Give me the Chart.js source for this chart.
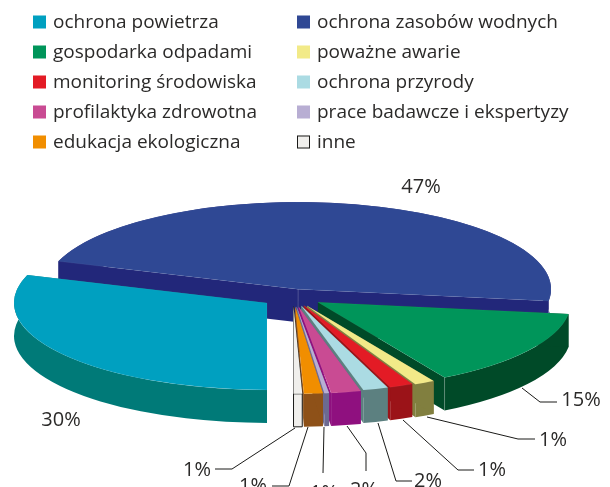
<!DOCTYPE html>
<html><head><meta charset="utf-8">
<style>html,body{margin:0;padding:0;background:#fff;overflow:hidden}#c{display:block}</style>
<script src="https://cdn.jsdelivr.net/npm/chart.js@4"></script></head>
<body><div style="width:610px;height:487px;position:relative"><canvas id="c" width="610" height="487"></canvas></div>
<script>
const categories=['ochrona powietrza','ochrona zasobów wodnych','gospodarka odpadami','poważne awarie','monitoring środowiska','ochrona przyrody','profilaktyka zdrowotna','prace badawcze i ekspertyzy','edukacja ekologiczna','inne'];
const values=[30.2,47,14.5,1.3,1.5,1.6,1.9,0.3,1.2,0.55];
const percentLabels=['30%','47%','15%','1%','1%','2%','2%','1%','1%','1%'];
const topColors=['#00a0c0','#2f4894','#00955a','#f2ea88','#e31b25','#abdbe3','#c94b93','#b8aed3','#f18e00','#f0efec'];
const sideColors=['#007a78','#22277a','#004a28','#817f3f','#9b1318','#5c8080','#8f107f','#6c6a92','#8e5118','#f0efec'];
const explode=[32,22,30,30,28,28,30,30,30,30];
const labelPos=[[61,420],[421,187],[581,400],[553,440],[492,470],[428,481],[364,490],[324,493],[253,486],[197,470]];
const leaders=[[],[],[[522,388],[540,402],[557,402]],[[427,417],[518,439],[535,439]],[[403,420],[458,470],[474,470]],[[378,423],[396,481],[412,481]],[[347,426],[366,453],[366,471]],[[324,427],[323,473]],[[308,427],[289,486],[272,486]],[[295,428],[232,469],[215,469]]];
const PIE_X=293,PIE_Y=296.5,SQUASH=0.344,DEPTH=33,RADIUS=253;
const FONT='"Open Sans"';
const TEXT='#2b2a29';

const pie3d={id:'pie3d',
 beforeDatasetDraw(chart,args){
  const ctx=chart.ctx,arcs=chart.getDatasetMeta(0).data;
  const order=[1,0,2,3,4,5,6,7,8,9];
  order.forEach(i=>{
   const a=arcs[i],mid=(a.startAngle+a.endAngle)/2,r=a.outerRadius;
   const ax=PIE_X+Math.cos(mid)*explode[i],ay=PIE_Y+Math.sin(mid)*explode[i]*SQUASH;
   const pt=t=>[ax+r*Math.cos(t),ay+r*Math.sin(t)*SQUASH];
   const p1=pt(a.startAngle),p2=pt(a.endAngle);
   ctx.save();
   ctx.fillStyle=sideColors[i];
   ctx.beginPath();
   ctx.ellipse(ax,ay,r,r*SQUASH,0,a.startAngle,a.endAngle);
   ctx.lineTo(p2[0],p2[1]+DEPTH);
   ctx.ellipse(ax,ay+DEPTH,r,r*SQUASH,0,a.endAngle,a.startAngle,true);
   ctx.closePath();ctx.fill();
   [p1,p2].forEach(p=>{
    ctx.beginPath();ctx.moveTo(ax,ay);ctx.lineTo(p[0],p[1]);ctx.lineTo(p[0],p[1]+DEPTH);ctx.lineTo(ax,ay+DEPTH);ctx.closePath();ctx.fill();
   });
   if(i===9){
    ctx.strokeStyle='#1a1a18';ctx.lineWidth=1;
    ctx.beginPath();ctx.moveTo(ax,ay);ctx.lineTo(ax,ay+r*SQUASH+DEPTH);ctx.lineTo(p1[0],p1[1]+DEPTH);ctx.lineTo(p1[0],p1[1]);ctx.moveTo(ax,ay+r*SQUASH);ctx.lineTo(p1[0],p1[1]);ctx.moveTo(ax,ay);ctx.lineTo(p1[0],p1[1]);ctx.stroke();
   } else if(i<3){
    ctx.strokeStyle='rgba(255,255,255,.22)';ctx.lineWidth=.7;
    if(i!==0)[p1,p2].forEach(p=>{ctx.beginPath();ctx.moveTo(p[0],p[1]);ctx.lineTo(p[0],p[1]+DEPTH);ctx.stroke();});
    if(i===1){ctx.beginPath();ctx.moveTo(ax,ay);ctx.lineTo(ax,ay+DEPTH);ctx.stroke();}
   }
   ctx.translate(ax,ay);ctx.scale(1,SQUASH);ctx.translate(-a.x,-a.y);
   a.draw(ctx);
   ctx.restore();
  });
  return false;
 },
 afterDraw(chart){
  const ctx=chart.ctx;
  ctx.save();
  ctx.font='19px '+FONT;ctx.textBaseline='middle';ctx.textAlign='left';
  categories.forEach((c,i)=>{
   const col=i%2,row=(i-col)/2;
   const x=col?297:33,y=22+row*30;
   ctx.fillStyle=topColors[i];ctx.fillRect(x,y-6.5,13,13);
   if(i===9){ctx.strokeStyle='#1a1a18';ctx.lineWidth=1;ctx.strokeRect(x+.5,y-6,12,12);}
   ctx.fillStyle=TEXT;ctx.fillText(c,x+20,y+.5);
  });
  ctx.strokeStyle='#1a1a18';ctx.lineWidth=1;
  leaders.forEach(l=>{ if(!l.length)return;ctx.beginPath();l.forEach((p,k)=>k?ctx.lineTo(p[0],p[1]):ctx.moveTo(p[0],p[1]));ctx.stroke();});
  ctx.font='20px '+FONT;ctx.textAlign='center';ctx.fillStyle=TEXT;
  percentLabels.forEach((t,i)=>ctx.fillText(t,labelPos[i][0],labelPos[i][1]));
  ctx.restore();
 }
};
new Chart(document.getElementById('c'),{
 type:'pie',
 data:{labels:categories,datasets:[{data:values,backgroundColor:topColors,borderColor:'rgba(255,255,255,.15)',borderWidth:.5,radius:RADIUS,clip:false}]},
 options:{responsive:false,animation:false,rotation:180,layout:{padding:0},plugins:{legend:{display:false},tooltip:{enabled:false}}},
 plugins:[pie3d]
});
</script></body></html>
